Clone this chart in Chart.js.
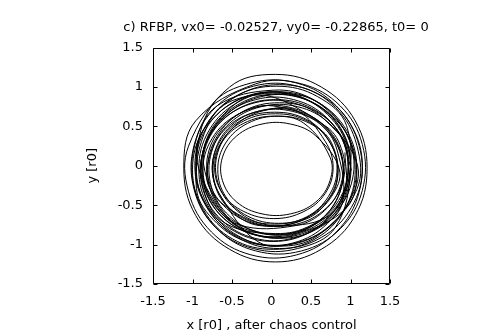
<!DOCTYPE html>
<html>
<head>
<meta charset="utf-8">
<script src="https://cdn.jsdelivr.net/npm/chart.js@4/dist/chart.umd.min.js"></script>
<style>
  body { margin: 0; background: #fff; }
</style>
</head>
<body>
<canvas id="orbit" width="480" height="336"></canvas>
<script>
const chartTitle = "c) RFBP, vx0= -0.02527, vy0= -0.22865, t0= 0";
const xLabel = "x [r0] , after chaos control";
const yLabel = "y [r0]";

const axisMin = -1.5;
const axisMax = 1.5;
const tickStep = 0.5;

// orbit, one loop per line
const orbitX = [
  1.01, 0.89, 0.56, 0.10, -0.36, -0.69, -0.81, -0.69, -0.36, 0.10, 0.56, 0.89,
  0.83, 0.61, 0.24, -0.20, -0.57, -0.79, -0.79, -0.57, -0.20, 0.24, 0.61, 0.83,
  0.76, 0.48, 0.09, -0.30, -0.58, -0.68, -0.58, -0.30, 0.09, 0.48, 0.76, 0.86,
  0.56, 0.24, -0.12, -0.44, -0.62, -0.62, -0.44, -0.12, 0.24, 0.56, 0.74, 0.74,
  0.41, 0.03, -0.35, -0.62, -0.72, -0.62, -0.35, 0.03, 0.41, 0.68, 0.78, 0.68,
  0.32, -0.10, -0.47, -0.68, -0.68, -0.47, -0.10, 0.32, 0.69, 0.90, 0.90, 0.69,
  0.02, -0.43, -0.75, -0.87, -0.75, -0.43, 0.02, 0.47, 0.79, 0.91, 0.79, 0.47,
  -0.17, -0.60, -0.85, -0.85, -0.60, -0.17, 0.33, 0.76, 1.01, 1.01, 0.76, 0.33,
  -0.49, -0.86, -1.00, -0.86, -0.49, 0.03, 0.55, 0.92, 1.06, 0.92, 0.55, 0.03,
  -0.69, -0.97, -0.97, -0.69, -0.20, 0.38, 0.87, 1.15, 1.15, 0.87, 0.38, -0.20,
  -0.96, -1.11, -0.96, -0.53, 0.05, 0.63, 1.06, 1.21, 1.06, 0.63, 0.05, -0.53,
  -1.05, -1.05, -0.76, -0.26, 0.32, 0.82, 1.11, 1.11, 0.82, 0.32, -0.26, -0.76,
  -0.95, -0.81, -0.43, 0.10, 0.63, 1.01, 1.15, 1.01, 0.63, 0.10, -0.43, -0.81,
  -0.95, -0.69, -0.25, 0.27, 0.71, 0.97, 0.97, 0.71, 0.27, -0.25, -0.69, -0.95,
  -0.74, -0.40, 0.07, 0.54, 0.88, 1.00, 0.88, 0.54, 0.07, -0.40, -0.74, -0.86,
  -0.56, -0.17, 0.27, 0.66, 0.88, 0.88, 0.66, 0.27, -0.17, -0.56, -0.78, -0.78,
  -0.36, 0.04, 0.44, 0.72, 0.83, 0.72, 0.44, 0.04, -0.36, -0.64, -0.75, -0.64,
  -0.16, 0.34, 0.78, 1.04, 1.04, 0.78, 0.34, -0.16, -0.60, -0.86, -0.86, -0.60,
  0.05, 0.51, 0.85, 0.97, 0.85, 0.51, 0.05, -0.41, -0.75, -0.87, -0.75, -0.41,
  0.30, 0.67, 0.88, 0.88, 0.67, 0.30, -0.14, -0.51, -0.72, -0.72, -0.51, -0.14,
  0.45, 0.73, 0.84, 0.73, 0.45, 0.05, -0.35, -0.63, -0.74, -0.63, -0.35, 0.05,
  0.70, 0.94, 0.94, 0.70, 0.28, -0.20, -0.62, -0.86, -0.86, -0.62, -0.20, 0.28,
  0.95, 1.08, 0.95, 0.58, 0.08, -0.42, -0.79, -0.92, -0.79, -0.42, 0.08, 0.58,
  1.08, 1.08, 0.81, 0.33, -0.23, -0.71, -0.98, -0.98, -0.71, -0.23, 0.33, 0.81,
  1.00, 0.87, 0.51, 0.02, -0.47, -0.83, -0.96, -0.83, -0.47, 0.02, 0.51, 0.87,
  0.96, 0.73, 0.33, -0.13, -0.53, -0.76, -0.76, -0.53, -0.13, 0.33, 0.73, 0.96,
  0.95, 0.58, 0.06, -0.46, -0.83, -0.97, -0.83, -0.46, 0.06, 0.58, 0.95, 1.09,
  0.69, 0.27, -0.21, -0.63, -0.87, -0.87, -0.63, -0.21, 0.27, 0.69, 0.93, 0.93
];
const orbitY = [
  -0.06, 0.37, 0.69, 0.80, 0.69, 0.37, -0.06, -0.49, -0.81, -0.92, -0.81, -0.49,
  0.20, 0.54, 0.74, 0.74, 0.54, 0.20, -0.20, -0.54, -0.74, -0.74, -0.54, -0.20,
  0.29, 0.54, 0.63, 0.54, 0.29, -0.05, -0.39, -0.64, -0.73, -0.64, -0.39, -0.05,
  0.38, 0.53, 0.53, 0.38, 0.11, -0.19, -0.46, -0.61, -0.61, -0.46, -0.19, 0.11,
  0.54, 0.63, 0.54, 0.31, -0.02, -0.35, -0.58, -0.67, -0.58, -0.35, -0.02, 0.31,
  0.70, 0.70, 0.50, 0.17, -0.21, -0.54, -0.74, -0.74, -0.54, -0.21, 0.17, 0.50,
  0.76, 0.65, 0.35, -0.07, -0.49, -0.79, -0.90, -0.79, -0.49, -0.07, 0.35, 0.65,
  0.90, 0.66, 0.25, -0.23, -0.64, -0.88, -0.88, -0.64, -0.23, 0.25, 0.66, 0.90,
  0.83, 0.46, -0.05, -0.56, -0.93, -1.06, -0.93, -0.56, -0.05, 0.46, 0.83, 0.96,
  0.76, 0.27, -0.31, -0.80, -1.08, -1.08, -0.80, -0.31, 0.27, 0.76, 1.04, 1.04,
  0.57, -0.03, -0.63, -1.06, -1.22, -1.06, -0.63, -0.03, 0.57, 1.00, 1.16, 1.00,
  0.25, -0.33, -0.84, -1.13, -1.13, -0.84, -0.33, 0.25, 0.76, 1.05, 1.05, 0.76,
  -0.01, -0.53, -0.91, -1.05, -0.91, -0.53, -0.01, 0.51, 0.89, 1.03, 0.89, 0.51,
  -0.29, -0.73, -0.98, -0.98, -0.73, -0.29, 0.21, 0.65, 0.90, 0.90, 0.65, 0.21,
  -0.43, -0.75, -0.87, -0.75, -0.43, 0.02, 0.47, 0.79, 0.91, 0.79, 0.47, 0.02,
  -0.65, -0.85, -0.85, -0.65, -0.29, 0.13, 0.49, 0.69, 0.69, 0.49, 0.13, -0.29,
  -0.65, -0.74, -0.65, -0.39, -0.03, 0.33, 0.59, 0.68, 0.59, 0.33, -0.03, -0.39,
  -0.97, -0.97, -0.72, -0.30, 0.20, 0.62, 0.87, 0.87, 0.62, 0.20, -0.30, -0.72,
  -0.86, -0.75, -0.44, -0.01, 0.42, 0.73, 0.84, 0.73, 0.42, -0.01, -0.44, -0.75,
  -0.76, -0.57, -0.23, 0.17, 0.51, 0.70, 0.70, 0.51, 0.17, -0.23, -0.57, -0.76,
  -0.67, -0.41, -0.05, 0.31, 0.57, 0.66, 0.57, 0.31, -0.05, -0.41, -0.67, -0.76,
  -0.65, -0.25, 0.21, 0.61, 0.84, 0.84, 0.61, 0.21, -0.25, -0.65, -0.88, -0.88,
  -0.53, -0.04, 0.45, 0.81, 0.94, 0.81, 0.45, -0.04, -0.53, -0.89, -1.02, -0.89,
  -0.30, 0.26, 0.74, 1.01, 1.01, 0.74, 0.26, -0.30, -0.78, -1.05, -1.05, -0.78,
  -0.01, 0.47, 0.81, 0.94, 0.81, 0.47, -0.01, -0.49, -0.83, -0.96, -0.83, -0.49,
  0.17, 0.54, 0.75, 0.75, 0.54, 0.17, -0.27, -0.64, -0.85, -0.85, -0.64, -0.27,
  0.51, 0.88, 1.01, 0.88, 0.51, 0.00, -0.51, -0.88, -1.01, -0.88, -0.51, 0.00,
  0.57, 0.80, 0.80, 0.57, 0.17, -0.29, -0.69, -0.92, -0.92, -0.69, -0.29, 0.17
];

const font = { family: "DejaVu Sans", size: 13 };

// gnuplot style box with inward ticks on all four sides
const frameTicks = {
  id: "frameTicks",
  afterDatasetsDraw(chart) {
    const { ctx, chartArea: a, scales: { x, y } } = chart;
    const l = Math.round(a.left) + 0.5, r = Math.round(a.right) - 0.5;
    const t = Math.round(a.top) + 0.5, b = Math.round(a.bottom) - 0.5;
    const len = 4;
    ctx.save();
    ctx.strokeStyle = "#000";
    ctx.lineWidth = 1;
    ctx.beginPath();
    ctx.rect(l, t, r - l, b - t);
    x.ticks.forEach(tk => {
      const px = Math.round(x.getPixelForValue(tk.value)) + 0.5;
      ctx.moveTo(px, b); ctx.lineTo(px, b - len);
      ctx.moveTo(px, t); ctx.lineTo(px, t + len);
    });
    y.ticks.forEach(tk => {
      const py = Math.round(y.getPixelForValue(tk.value)) + 0.5;
      ctx.moveTo(l, py); ctx.lineTo(l + len, py);
      ctx.moveTo(r, py); ctx.lineTo(r - len, py);
    });
    ctx.stroke();
    ctx.restore();
  }
};

const tickText = v => String(v);

new Chart(document.getElementById("orbit"), {
  type: "scatter",
  data: {
    datasets: [{
      data: orbitX.map((x, i) => ({ x: x, y: orbitY[i] })),
      showLine: true,
      borderColor: "#000",
      borderWidth: 1,
      pointRadius: 0,
      tension: 0.38,
      fill: false
    }]
  },
  options: {
    responsive: false,
    animation: false,
    layout: { padding: { left: 72, right: 0, top: 0, bottom: 0 } },
    plugins: {
      legend: { display: false },
      tooltip: { enabled: false },
      title: {
        display: true,
        text: chartTitle,
        color: "#000",
        font: { family: "DejaVu Sans", size: 13, weight: "normal" },
        padding: { top: 20, bottom: 12 }
      }
    },
    scales: {
      x: {
        type: "linear",
        position: "bottom",
        min: axisMin,
        max: axisMax,
        grid: { display: false, drawTicks: false, tickLength: 0 },
        border: { display: false },
        ticks: { stepSize: tickStep, color: "#000", font: font, padding: 10, maxRotation: 0, callback: tickText },
        title: { display: true, text: xLabel, color: "#000", font: font, padding: { top: 0, bottom: 3 } },
        afterFit(scale) { scale.height = 52; }
      },
      y: {
        type: "linear",
        min: axisMin,
        max: axisMax,
        grid: { display: false, drawTicks: false, tickLength: 0 },
        border: { display: false },
        ticks: { stepSize: tickStep, color: "#000", font: font, padding: 10, callback: tickText },
        title: { display: true, text: yLabel, color: "#000", font: font, padding: { top: 13, bottom: 0 } },
        afterFit(scale) { scale.width = 81; }
      },
      // empty strip on the right, keeps the plot box where the reference has it
      y2: {
        position: "right",
        grid: { display: false, drawTicks: false },
        border: { display: false },
        ticks: { display: false },
        afterFit(scale) { scale.width = 90; }
      }
    }
  },
  plugins: [frameTicks]
});
</script>
</body>
</html>
